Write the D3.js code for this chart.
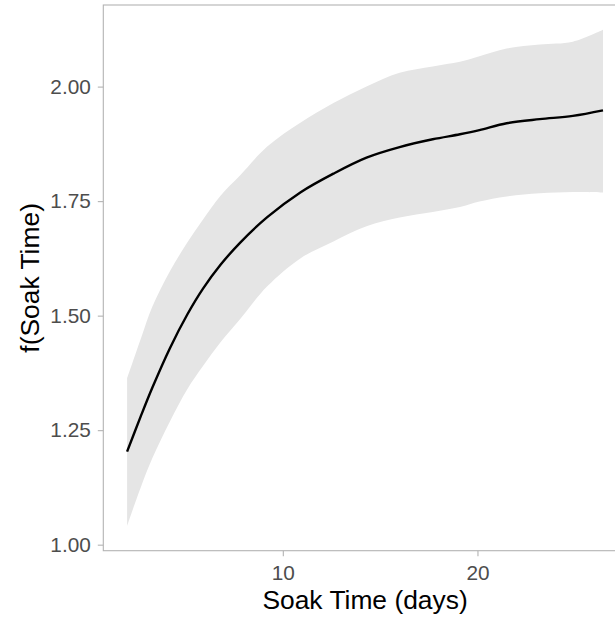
<!DOCTYPE html>
<html>
<head>
<meta charset="utf-8">
<script src="https://cdn.jsdelivr.net/npm/d3@7"></script>
<style>
  html, body { margin: 0; padding: 0; background: #ffffff; }
  svg { display: block; font-family: "Liberation Sans", Arial, sans-serif; }
</style>
</head>
<body>
<svg id="chart" width="615" height="620"></svg>
<script>
// Smooth term for soak time: fitted curve with its confidence band
const soakDays = [2.0, 2.7, 3.3, 4.2, 5.1, 5.9, 6.8, 7.8, 9.2, 10.9, 12.6, 14.3, 16.0, 17.7, 19.1, 20.1, 21.5, 23.2, 24.9, 26.45];
const fitValues = [1.203, 1.280, 1.343, 1.429, 1.503, 1.559, 1.611, 1.659, 1.715, 1.769, 1.810, 1.845, 1.868, 1.885, 1.896, 1.905, 1.920, 1.929, 1.936, 1.948];
const upperValues = [1.363, 1.449, 1.520, 1.597, 1.660, 1.710, 1.762, 1.806, 1.869, 1.921, 1.964, 2.000, 2.030, 2.044, 2.054, 2.066, 2.083, 2.092, 2.098, 2.124];
const lowerValues = [1.041, 1.125, 1.189, 1.269, 1.340, 1.390, 1.442, 1.492, 1.564, 1.625, 1.662, 1.695, 1.714, 1.726, 1.737, 1.749, 1.760, 1.767, 1.770, 1.769];
const xTicks = [10, 20];
const yTicks = [1.00, 1.25, 1.50, 1.75, 2.00];
const xTitle = "Soak Time (days)";
const yTitle = "f(Soak Time)";

const rows = soakDays.map((d, i) => ({ x: d, fit: fitValues[i], hi: upperValues[i], lo: lowerValues[i] }));

const svg = d3.select("#chart");
const panel = { left: 103.3, top: 5, right: 626.8, bottom: 550.7 };

// ggplot-style 5% expansion around the data range
const xMin = d3.min(soakDays), xMax = d3.max(soakDays);
const xPad = (xMax - xMin) * 0.05;
const yMin = d3.min(lowerValues), yMax = d3.max(upperValues);
const yPad = (yMax - yMin) * 0.05;

const x = d3.scaleLinear().domain([xMin - xPad, xMax + xPad]).range([panel.left, panel.right]);
const y = d3.scaleLinear().domain([yMin - yPad, yMax + yPad]).range([panel.bottom, panel.top]);

const smooth = d3.curveCatmullRom.alpha(0.5);
const plot = svg.append("g");

// confidence band
plot.append("path")
  .datum(rows)
  .attr("fill", "#e5e5e5")
  .attr("d", d3.area().x(d => x(d.x)).y0(d => y(d.lo)).y1(d => y(d.hi)).curve(smooth));

// fitted curve
plot.append("path")
  .datum(rows)
  .attr("fill", "none")
  .attr("stroke", "#000000")
  .attr("stroke-width", 2.4)
  .attr("stroke-linejoin", "round")
  .attr("d", d3.line().x(d => x(d.x)).y(d => y(d.fit)).curve(smooth));

// panel border
svg.append("rect")
  .attr("x", panel.left).attr("y", panel.top)
  .attr("width", panel.right - panel.left).attr("height", panel.bottom - panel.top)
  .attr("fill", "none").attr("stroke", "#b3b3b3").attr("stroke-width", 1.1);

// axes
const yAxis = svg.append("g")
  .attr("transform", `translate(${panel.left},0)`)
  .call(d3.axisLeft(y).tickValues(yTicks).tickFormat(d3.format(".2f")).tickSize(5.5).tickPadding(7));
const xAxis = svg.append("g")
  .attr("transform", `translate(0,${panel.bottom})`)
  .call(d3.axisBottom(x).tickValues(xTicks).tickFormat(d3.format("d")).tickSize(5.5).tickPadding(9));

[xAxis, yAxis].forEach(g => {
  g.select(".domain").remove();
  g.selectAll(".tick line").attr("stroke", "#b3b3b3").attr("stroke-width", 1.1);
  g.selectAll(".tick text")
    .attr("fill", "#4d4d4d")
    .style("font-size", "20.8px")
    .style("font-family", "'Liberation Sans', Arial, sans-serif");
});

// axis titles
svg.append("text")
  .attr("x", (panel.left + panel.right) / 2)
  .attr("y", 609)
  .attr("text-anchor", "middle")
  .style("font-size", "26.4px")
  .attr("fill", "#000000")
  .text(xTitle);

svg.append("text")
  .attr("transform", `translate(39,${(panel.top + panel.bottom) / 2}) rotate(-90)`)
  .attr("text-anchor", "middle")
  .style("font-size", "26.4px")
  .attr("fill", "#000000")
  .text(yTitle);
</script>
</body>
</html>
